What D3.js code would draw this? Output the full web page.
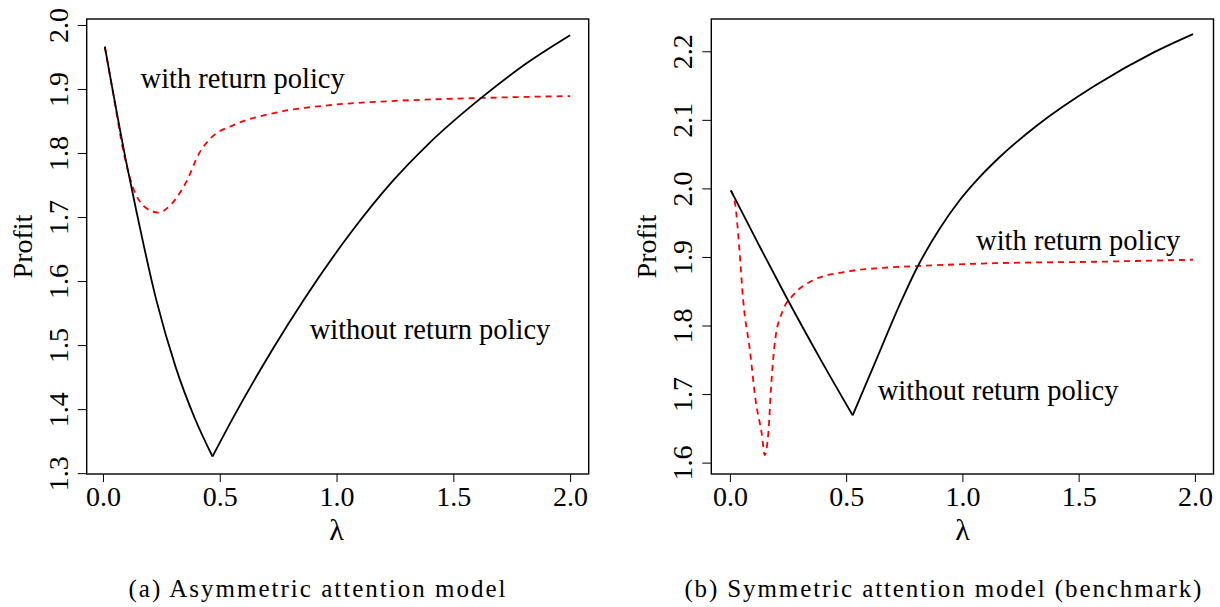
<!DOCTYPE html>
<html lang="en">
<head>
<meta charset="UTF-8">
<script src="https://d3js.org/d3.v7.min.js"></script>
<style>
    body { margin: 0; background: #fff; }
    text { font-family: "Liberation Serif", "Times New Roman", serif; fill: #000; }
</style>
</head>
<body>
<script>

// panel (a) asymmetric attention model
var lambdaA_without = [0.008, 0.098, 0.145, 0.228, 0.311, 0.394, 0.469, 0.561, 0.727, 0.860, 1.060, 1.240, 1.393, 1.626, 1.809, 2.000];
var profitA_without = [1.966, 1.789, 1.706, 1.571, 1.466, 1.385, 1.326, 1.389, 1.494, 1.571, 1.675, 1.756, 1.814, 1.888, 1.939, 1.984];
var lambdaA_with = [0.008, 0.050, 0.086, 0.128, 0.178, 0.236, 0.295, 0.361, 0.411, 0.461, 0.561, 0.727, 0.977, 1.226, 1.626, 2.000];
var profitA_with = [1.966, 1.880, 1.805, 1.747, 1.716, 1.707, 1.721, 1.758, 1.799, 1.823, 1.844, 1.862, 1.875, 1.881, 1.886, 1.889];

// panel (b) symmetric attention model
var lambdaB_without = [0.004, 0.124, 0.240, 0.394, 0.528, 0.627, 0.735, 0.800, 0.900, 0.989, 1.070, 1.155, 1.322, 1.571, 1.821, 1.992];
var profitB_without = [1.997, 1.918, 1.843, 1.748, 1.669, 1.748, 1.834, 1.881, 1.940, 1.983, 2.015, 2.044, 2.092, 2.150, 2.198, 2.225];
var lambdaB_with = [0.004, 0.024, 0.041, 0.057, 0.086, 0.111, 0.137, 0.150, 0.165, 0.178, 0.195, 0.228, 0.274, 0.357, 0.490, 0.656, 0.823, 1.155, 1.571, 1.992];
var profitB_with = [1.997, 1.974, 1.910, 1.837, 1.764, 1.690, 1.642, 1.611, 1.642, 1.715, 1.780, 1.822, 1.845, 1.866, 1.878, 1.884, 1.887, 1.891, 1.893, 1.896];

var xTicks = [0, 0.5, 1, 1.5, 2];
var yTicksA = [1.3, 1.4, 1.5, 1.6, 1.7, 1.8, 1.9, 2.0];
var yTicksB = [1.6, 1.7, 1.8, 1.9, 2.0, 2.1, 2.2];

var width = 1220, height = 607;
var svg = d3.select("body").append("svg")
    .attr("width", width)
    .attr("height", height);

var panels = [
    {
        box: [86.7, 588.7, 19, 474],
        xDomain: [-0.0696, 2.0796], yDomain: [1.2987, 2.0093],
        yTicks: yTicksA,
        without: [lambdaA_without, profitA_without],
        withR: [lambdaA_with, profitA_with],
        labels: [["with return policy", 0.161, 1.901], ["without return policy", 0.885, 1.509]],
        caption: "(a) Asymmetric attention model", capW: 377
    },
    {
        box: [711.3, 1213.5, 19, 474],
        xDomain: [-0.08, 2.08], yDomain: [1.5834, 2.2471],
        yTicks: yTicksB,
        without: [lambdaB_without, profitB_without],
        withR: [lambdaB_with, profitB_with],
        labels: [["with return policy", 1.059, 1.910], ["without return policy", 0.636, 1.6915]],
        caption: "(b) Symmetric attention model (benchmark)", capW: 517
    }
];

panels.forEach(function (p) {
    var x = d3.scaleLinear().domain(p.xDomain).range([p.box[0], p.box[1]]);
    var y = d3.scaleLinear().domain(p.yDomain).range([p.box[3], p.box[2]]);
    var g = svg.append("g");

    // x axis
    var xa = g.append("g")
        .attr("transform", "translate(0," + p.box[3] + ")")
        .call(d3.axisBottom(x).tickValues(xTicks).tickSize(8).tickFormat(d3.format(".1f")));
    xa.select(".domain").remove();
    xa.selectAll("line").attr("stroke", "#000").attr("stroke-width", 1);
    xa.selectAll("text")
        .attr("y", 32).attr("dy", 0)
        .style("font-size", "28px")
        .style("font-family", "Liberation Serif");

    // y axis, labels parallel to the axis
    var ya = g.append("g")
        .attr("transform", "translate(" + p.box[0] + ",0)")
        .call(d3.axisLeft(y).tickValues(p.yTicks).tickSize(9).tickFormat(d3.format(".1f")));
    ya.select(".domain").remove();
    ya.selectAll("line").attr("stroke", "#000").attr("stroke-width", 1);
    ya.selectAll("text")
        .attr("transform", "rotate(-90)")
        .attr("x", 0).attr("y", -19).attr("dy", 0)
        .attr("text-anchor", "middle")
        .style("font-size", "28px")
        .style("font-family", "Liberation Serif");

    // box
    g.append("rect")
        .attr("x", p.box[0]).attr("y", p.box[2])
        .attr("width", p.box[1] - p.box[0]).attr("height", p.box[3] - p.box[2])
        .attr("fill", "none").attr("stroke", "#000").attr("stroke-width", 1.4);

    var line = d3.line()
        .x(function (d) { return x(d[0]); })
        .y(function (d) { return y(d[1]); })
        .curve(d3.curveMonotoneX);

    var blackPts = d3.zip(p.without[0], p.without[1]);
    var redPts = d3.zip(p.withR[0], p.withR[1]);

    g.append("path")
        .attr("d", line(redPts))
        .attr("fill", "none").attr("stroke", "#ff0000")
        .attr("stroke-width", 1.8).attr("stroke-dasharray", "6,5");

    // without return policy has a kink at its minimum: draw the two branches separately
    var iMin = d3.minIndex(p.without[1]);
    [blackPts.slice(0, iMin + 1), blackPts.slice(iMin)].forEach(function (seg) {
        g.append("path")
            .attr("d", line(seg))
            .attr("fill", "none").attr("stroke", "#000")
            .attr("stroke-width", 1.8).attr("stroke-linejoin", "round");
    });

    p.labels.forEach(function (l) {
        g.append("text")
            .attr("x", x(l[1])).attr("y", y(l[2]))
            .style("font-size", "28.5px")
            .text(l[0]);
    });

    var cx = (x(0) + x(2)) / 2;
    g.append("text")
        .attr("x", cx).attr("y", p.box[3] + 66)
        .attr("text-anchor", "middle")
        .style("font-size", "30px")
        .text("λ");

    g.append("text")
        .attr("transform", "translate(" + (p.box[0] - 55) + "," + ((p.box[2] + p.box[3]) / 2) + ") rotate(-90)")
        .attr("text-anchor", "middle")
        .style("font-size", "28px")
        .text("Profit");

    g.append("text")
        .attr("x", cx - 19.5).attr("y", 597)
        .attr("text-anchor", "middle")
        .attr("textLength", p.capW).attr("lengthAdjust", "spacing")
        .style("font-size", "25px")
        .text(p.caption);
});
</script>
</body>
</html>
